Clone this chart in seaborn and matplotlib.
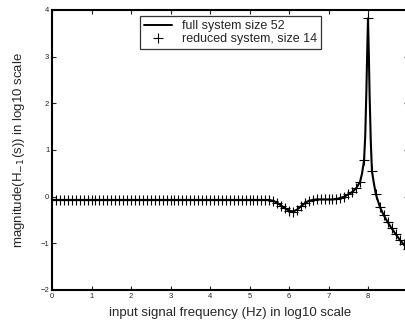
import numpy as np
import pandas as pd
import seaborn as sns
import matplotlib
matplotlib.use("Agg")
import matplotlib.pyplot as plt
from matplotlib.lines import Line2D

# frequency grid (log10 Hz) of the reduced model samples
freq = [0.0, 0.1, 0.2, 0.3, 0.4, 0.5, 0.6, 0.7, 0.8, 0.9,
        1.0, 1.1, 1.2, 1.3, 1.4, 1.5, 1.6, 1.7, 1.8, 1.9,
        2.0, 2.1, 2.2, 2.3, 2.4, 2.5, 2.6, 2.7, 2.8, 2.9,
        3.0, 3.1, 3.2, 3.3, 3.4, 3.5, 3.6, 3.7, 3.8, 3.9,
        4.0, 4.1, 4.2, 4.3, 4.4, 4.5, 4.6, 4.7, 4.8, 4.9,
        5.0, 5.1, 5.2, 5.3, 5.4, 5.5, 5.6, 5.7, 5.8, 5.9,
        6.0, 6.1, 6.2, 6.3, 6.4, 6.5, 6.6, 6.7, 6.8, 6.9,
        7.0, 7.1, 7.2, 7.3, 7.4, 7.5, 7.6, 7.7, 7.8, 7.9,
        8.0, 8.1, 8.2, 8.3, 8.4, 8.5, 8.6, 8.7, 8.8, 8.9, 9.0]

# magnitude (log10) of reduced system at those frequencies
reduced = [-0.07, -0.07, -0.07, -0.07, -0.07, -0.07, -0.07, -0.07, -0.07, -0.07,
           -0.07, -0.07, -0.07, -0.07, -0.07, -0.07, -0.07, -0.07, -0.07, -0.07,
           -0.07, -0.07, -0.07, -0.07, -0.07, -0.07, -0.07, -0.07, -0.07, -0.07,
           -0.07, -0.07, -0.07, -0.07, -0.07, -0.07, -0.07, -0.07, -0.07, -0.07,
           -0.07, -0.07, -0.07, -0.07, -0.07, -0.07, -0.07, -0.07, -0.07, -0.07,
           -0.07, -0.07, -0.07, -0.07, -0.07, -0.07, -0.09, -0.13, -0.19, -0.25,
           -0.30, -0.32, -0.28, -0.21, -0.14, -0.09, -0.07, -0.06, -0.06, -0.06,
           -0.06, -0.06, -0.05, -0.03, 0.00, 0.05, 0.10, 0.18, 0.32, 0.78,
           3.82, 0.55, 0.05, -0.22, -0.40, -0.55, -0.68, -0.80, -0.92, -1.02, -1.12]

# extra samples of the full system around the resonance peak
peak_freq = [7.85, 7.93, 7.96, 7.98, 8.02, 8.04, 8.07, 8.15]
peak_mag = [0.50, 1.30, 2.30, 3.10, 3.10, 2.20, 1.20, 0.28]

full = pd.DataFrame({"f": freq + peak_freq, "m": reduced + peak_mag}).sort_values("f")
red = pd.DataFrame({"f": freq, "m": reduced})

sns.set_style("ticks")
plt.rcParams["font.family"] = ["Liberation Sans", "DejaVu Sans"]

fig = plt.figure(figsize=(4.05, 3.29), dpi=100)
ax = fig.add_axes([52 / 405, 1 - 290 / 329, 355.5 / 405, 280 / 329])

sns.lineplot(data=full, x="f", y="m", ax=ax, color="black", linewidth=1.5,
             sort=False, estimator=None)
ax.plot(red["f"], red["m"], linestyle="none", marker="+", color="black",
        markersize=7.5, markeredgewidth=0.8)

ax.set_xlim(0, 9)
ax.set_ylim(-2, 4)
ax.set_xticks(range(0, 9))
ax.set_yticks(range(-2, 5))
ax.set_yticklabels(["\u22122", "\u22121", "0", "1", "2", "3", "4"])
ax.tick_params(direction="in", top=True, right=True, length=3, width=0.8,
               labelsize=5.5, pad=2)
for s in ax.spines.values():
    s.set_visible(True)
    s.set_linewidth(1.5)
    s.set_color("black")

ax.set_xlabel("input signal frequency (Hz) in log10 scale", fontsize=9.5, labelpad=5)
ax.set_ylabel("magnitude(H$_{-1}$(s)) in log10 scale", fontsize=9.5, labelpad=10)

handles = [Line2D([], [], color="black", linewidth=1.4),
           Line2D([], [], color="black", linestyle="none", marker="+",
                  markersize=7, markeredgewidth=0.8)]
leg = ax.legend(handles, ["full system size 52", "reduced system, size 14"],
                loc="upper left", bbox_to_anchor=((140 - 52) / 355.5, (290 - 16) / 280),
                fontsize=9, frameon=True, fancybox=False, borderpad=0.35,
                labelspacing=0.05, handlelength=2.2, handletextpad=0.8,
                borderaxespad=0)
leg.get_frame().set_edgecolor("black")
leg.get_frame().set_linewidth(0.9)

fig.savefig("out.png", dpi=100)
